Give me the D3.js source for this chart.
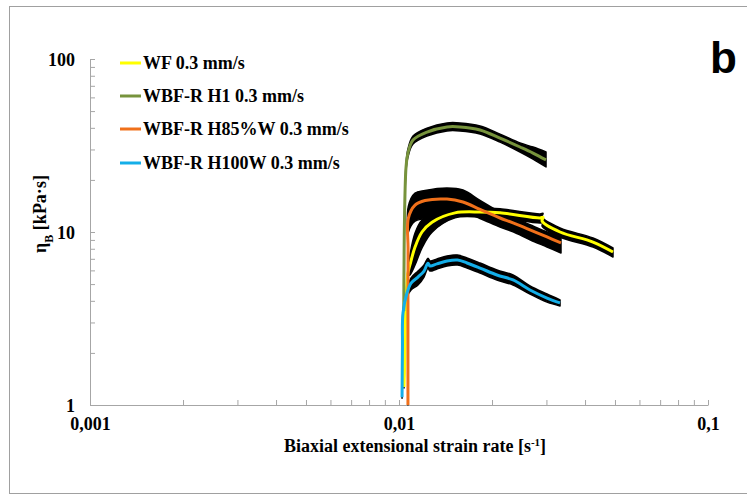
<!DOCTYPE html>
<html>
<head>
<meta charset="utf-8">
<script src="https://cdn.jsdelivr.net/npm/d3@7"></script>
<style>
  body { margin: 0; background: #fff; }
  svg { display: block; }
  text { font-family: "Liberation Serif", "Times New Roman", serif; font-weight: bold; fill: #000; }
</style>
</head>
<body>
<svg id="chart" width="747" height="495"></svg>
<script>
// ---- Data: biaxial extensional viscosity vs. strain rate ----
const seriesNames  = ["WF 0.3 mm/s", "WBF-R H1 0.3 mm/s", "WBF-R H85%W 0.3 mm/s", "WBF-R H100W 0.3 mm/s"];
const seriesColors = ["#ffff00", "#77933c", "#f0701a", "#14aee8"];

// WF 0.3 mm/s
const wfRate  = [0.01038, 0.01046, 0.01050, 0.01057, 0.01069, 0.01085, 0.01127, 0.01187, 0.01279, 0.01518, 0.01829, 0.02123, 0.02860, 0.02925, 0.02905, 0.03320, 0.04245, 0.04927];
const wfEta   = [1.27, 2.2, 3.4, 4.5, 5.8, 6.45, 8.19, 10.0, 11.4, 12.9, 13.05, 12.9, 12.05, 12.15, 11.55, 10.0, 8.75, 7.66];
const wfErrLo = [0.013, 0.013, 0.013, 0.027, 0.041, 0.142, 0.271, 0.237, 0.142, 0.069, 0.069, 0.069, 0.069, 0.069, 0.069, 0.069, 0.069, 0.069];
const wfErrHi = [0.013, 0.013, 0.013, 0.027, 0.041, 0.142, 0.205, 0.173, 0.112, 0.055, 0.055, 0.055, 0.055, 0.055, 0.055, 0.055, 0.055, 0.055];

// WBF-R H1 0.3 mm/s
const h1Rate  = [0.01036, 0.01038, 0.01042, 0.01054, 0.01069, 0.01110, 0.01232, 0.01430, 0.01576, 0.01829, 0.02123, 0.02464, 0.02714, 0.02991];
const h1Eta   = [3.5, 6.0, 12.0, 23.8, 28.6, 34.0, 37.8, 40.5, 40.5, 38.9, 34.9, 31.0, 28.6, 26.1];
const h1ErrLo = [0.013, 0.013, 0.027, 0.041, 0.055, 0.055, 0.055, 0.055, 0.055, 0.055, 0.055, 0.069, 0.083, 0.098];
const h1ErrHi = [0.013, 0.013, 0.027, 0.041, 0.055, 0.055, 0.055, 0.055, 0.055, 0.055, 0.055, 0.055, 0.083, 0.112];

// WBF-R H85%W 0.3 mm/s
const h85Rate  = [0.01069, 0.01069, 0.01070, 0.01072, 0.01127, 0.01214, 0.01430, 0.01611, 0.01829, 0.02123, 0.02339, 0.02654, 0.03013, 0.03344];
const h85Eta   = [1.0, 4.0, 8.0, 12.0, 14.3, 15.2, 15.5, 14.9, 13.5, 12.05, 11.3, 10.3, 9.36, 8.64];
const h85ErrLo = [0, 0, 0.013, 0.205, 0.237, 0.271, 0.173, 0.142, 0.127, 0.127, 0.127, 0.142, 0.142, 0.142];
const h85ErrHi = [0, 0, 0.013, 0.173, 0.173, 0.142, 0.157, 0.173, 0.127, 0.083, 0.083, 0.069, 0.069, 0.069];

// WBF-R H100W 0.3 mm/s
const h100Rate  = [0.01023, 0.01026, 0.01030, 0.01061, 0.01094, 0.01152, 0.01205, 0.01241, 0.01260, 0.01327, 0.01430, 0.01547, 0.01660, 0.01829, 0.02075, 0.02339, 0.02654, 0.03013, 0.03320];
const h100Eta   = [1.11, 2.16, 3.40, 4.44, 5.07, 5.49, 5.95, 6.60, 6.36, 6.54, 6.80, 6.89, 6.62, 6.19, 5.64, 5.28, 4.62, 4.15, 3.89];
const h100ErrLo = [0.013, 0.013, 0.027, 0.055, 0.098, 0.112, 0.083, 0.069, 0.069, 0.069, 0.069, 0.069, 0.069, 0.069, 0.069, 0.069, 0.055, 0.055, 0.041];
const h100ErrHi = [0.013, 0.013, 0.027, 0.041, 0.069, 0.083, 0.083, 0.069, 0.069, 0.069, 0.069, 0.069, 0.069, 0.069, 0.069, 0.069, 0.055, 0.055, 0.041];

// Axis ticks and labels
const xTickValues = [0.001, 0.01, 0.1];
const xTickLabels = ["0,001", "0,01", "0,1"];
const yTickValues = [1, 10, 100];
const yTickLabels = ["1", "10", "100"];

// ---- Build series records ----
function zipSeries(rate, eta, lo, hi) {
  return rate.map((r, i) => ({ rate: r, eta: eta[i], lo: lo[i], hi: hi[i] }));
}
const series = [
  zipSeries(wfRate, wfEta, wfErrLo, wfErrHi),
  zipSeries(h1Rate, h1Eta, h1ErrLo, h1ErrHi),
  zipSeries(h85Rate, h85Eta, h85ErrLo, h85ErrHi),
  zipSeries(h100Rate, h100Eta, h100ErrLo, h100ErrHi)
];

// ---- Layout ----
const svg = d3.select("#chart");
const axisGray = "#a6a6a6";
const fontSize = "18px";

// outer frame
svg.append("rect")
  .attr("x", 9.5).attr("y", 6.5).attr("width", 760).attr("height", 487)
  .attr("fill", "none").attr("stroke", "#a0a0a0").attr("stroke-width", 1);

const x = d3.scaleLog().domain([0.001, 0.1]).range([90, 708]);
const y = d3.scaleLog().domain([1, 100]).range([405, 59]);

// ---- Axes ----
const xAxis = d3.axisBottom(x)
  .tickValues(x.ticks())
  .tickSize(-5).tickSizeOuter(0)
  .tickFormat(d => {
    const i = xTickValues.findIndex(v => Math.abs(v - d) / v < 1e-9);
    return i >= 0 ? xTickLabels[i] : "";
  });
const gx = svg.append("g").attr("transform", "translate(0,405)").call(xAxis);
gx.select(".domain").attr("stroke", axisGray);
gx.selectAll(".tick line").attr("stroke", axisGray);
gx.selectAll(".tick text")
  .attr("y", 25).attr("dy", null)
  .style("font-size", fontSize).style("font-family", "'Liberation Serif', serif").style("font-weight", "bold");

const yAxis = d3.axisLeft(y)
  .tickValues(y.ticks())
  .tickSize(-5).tickSizeOuter(0).tickPadding(15)
  .tickFormat(d => {
    const i = yTickValues.findIndex(v => Math.abs(v - d) / v < 1e-9);
    return i >= 0 ? yTickLabels[i] : "";
  });
const gy = svg.append("g").attr("transform", "translate(90,0)").call(yAxis);
gy.select(".domain").attr("stroke", axisGray);
gy.selectAll(".tick line").attr("stroke", axisGray);
gy.selectAll(".tick text")
  .attr("dy", "0.34em")
  .style("font-size", fontSize).style("font-family", "'Liberation Serif', serif").style("font-weight", "bold");

// ---- Error bands, then curves on top ----
const curve = d3.curveCatmullRom.alpha(0.5);
const band = d3.area()
  .x(d => x(d.rate))
  .y0(d => y(d.eta / (1 + d.lo)))
  .y1(d => y(d.eta * (1 + d.hi)))
  .curve(curve);
const line = d3.line()
  .x(d => x(d.rate))
  .y(d => y(d.eta))
  .curve(curve);

svg.append("g").selectAll("path")
  .data(series).join("path")
  .attr("d", band)
  .attr("fill", "#000")
  .attr("stroke", "#000").attr("stroke-width", 1.5).attr("stroke-linejoin", "round");

svg.append("g").selectAll("path")
  .data(series).join("path")
  .attr("d", line)
  .attr("fill", "none")
  .attr("stroke", (d, i) => seriesColors[i])
  .attr("stroke-width", 3)
  .attr("stroke-linejoin", "round");

// ---- Legend ----
const legendY = [63, 96, 129, 163];
const legend = svg.append("g");
seriesNames.forEach((name, i) => {
  legend.append("line")
    .attr("x1", 120).attr("x2", 141)
    .attr("y1", legendY[i]).attr("y2", legendY[i])
    .attr("stroke", seriesColors[i]).attr("stroke-width", 3);
  legend.append("text")
    .attr("x", 143).attr("y", legendY[i] + 6)
    .style("font-size", fontSize)
    .text(name);
});

// ---- Axis titles ----
const xt = svg.append("text")
  .attr("x", 415).attr("y", 452)
  .attr("text-anchor", "middle")
  .style("font-size", fontSize)
  .text("Biaxial extensional strain rate [s");
xt.append("tspan").attr("baseline-shift", "super").style("font-size", "11px").text("-1");
xt.append("tspan").text("]");

const yt = svg.append("text")
  .attr("transform", "translate(46,214) rotate(-90)")
  .attr("text-anchor", "middle")
  .style("font-size", fontSize)
  .text("η");
yt.append("tspan").attr("baseline-shift", "sub").style("font-size", "12px").text("B");
yt.append("tspan").text(" [kPa·s]");

// ---- Panel letter ----
svg.append("text")
  .attr("x", 710).attr("y", 73)
  .style("font-family", "'Liberation Sans', Arial, sans-serif")
  .style("font-size", "44px")
  .style("font-weight", "bold")
  .text("b");
</script>
</body>
</html>
